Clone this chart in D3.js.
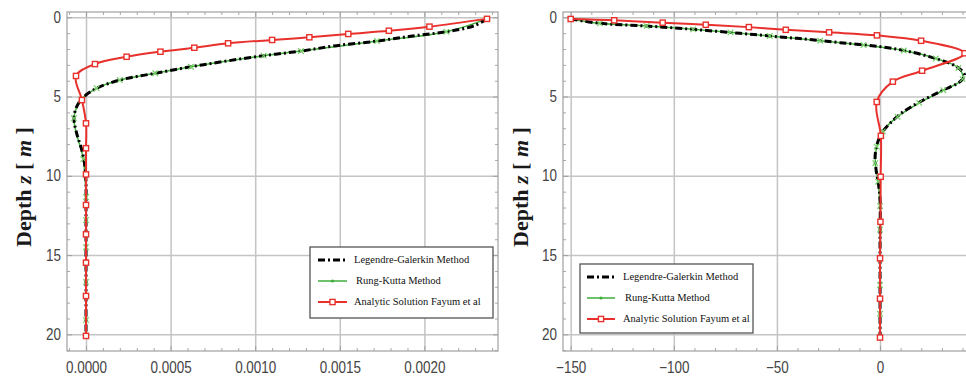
<!DOCTYPE html>
<html>
<head>
<meta charset="utf-8">
<script src="https://cdn.jsdelivr.net/npm/d3@7"></script>
<style>
  html, body { margin: 0; padding: 0; background: #fff; }
  svg { display: block; }
</style>
</head>
<body>
<div id="chart"></div>
<script>
// ---- data ----
// left panel
const leftLGDepth = [0.1, 0.55, 0.91, 1.18, 1.5, 1.79, 2.13, 2.42, 2.76, 3.12, 3.53, 3.96, 4.48, 5.05, 5.64, 6.37, 7.32, 8.37, 9.43, 10.47, 12, 14, 16, 18, 20.1];
const leftLG = [0.00237, 0.00229, 0.00213, 0.00193, 0.00172, 0.00148, 0.00127, 0.00105, 0.00083, 0.00062, 0.00041, 0.00020, 0.000063, -0.000016, -0.000055, -0.000071, -0.000055, -0.000025, -0.000006, 0, 0, 0, 0, 0, 0];

const leftRKDepth = [0.1, 0.91, 1.5, 2.13, 2.42, 3.12, 3.53, 3.96, 4.48, 5.2, 6.37, 8.94, 11.34, 12.79, 14.5, 16.7, 19.1];
const leftRK = [0.00237, 0.00213, 0.00172, 0.00127, 0.00105, 0.00062, 0.00041, 0.00020, 0.000063, -0.000028, -0.000071, -0.000016, 0, 0, 0, 0, 0];

const leftASDepth = [0.1, 0.59, 0.85, 1.05, 1.26, 1.43, 1.64, 1.92, 2.17, 2.49, 2.95, 3.7, 5.22, 6.69, 8.26, 9.91, 11.84, 13.69, 15.48, 17.58, 20.1];
const leftAS = [0.00237, 0.00203, 0.00179, 0.00155, 0.00132, 0.00110, 0.00084, 0.00064, 0.00044, 0.00024, 0.000053, -0.000059, -0.000024, 0, 0, 0, 0, 0, 0, 0, 0];

// right panel
const rightLGDepth = [0.107, 0.38, 0.55, 0.76, 1.01, 1.22, 1.39, 1.6, 1.85, 2.17, 2.69, 3.12, 3.64, 4.06, 4.59, 5.22, 5.96, 6.69, 7.22, 7.95, 8.79, 9.63, 10.47, 11.53, 14, 17, 20.2];
const rightLG = [-150, -135.8, -113.2, -90.6, -67.9, -50.1, -34.8, -19.4, 0, 14.5, 29.1, 37.2, 41.0, 38.8, 30.7, 21.0, 11.3, 4.8, 1.3, -1.3, -2.4, -1.9, -0.8, 0, 0, 0, 0];

const rightRKDepth = [0.107, 0.38, 0.55, 0.76, 0.95, 1.18, 1.48, 1.75, 2.1, 2.6, 3.2, 3.9, 4.6, 5.4, 6.27, 7.2, 8.16, 9.2, 10.37, 11.9, 13.4, 15.2, 16.9, 18.7, 20.2];
const rightRK = [-150, -135.8, -113.2, -90.6, -72.5, -53.5, -29, -8, 11.5, 27, 38, 40, 30.7, 19, 8.5, 1.3, -1.6, -2.3, -0.9, 0, 0, 0, 0, 0, 0];

const rightASDepth = [0.107, 0.19, 0.34, 0.47, 0.62, 0.79, 0.95, 1.14, 1.48, 2.27, 3.37, 4.06, 5.34, 7.48, 10.06, 12.9, 15.2, 17.75, 20.2];
const rightAS = [-150, -128.9, -105.4, -84.5, -63.6, -45.7, -24.7, -1.5, 19.9, 41.0, 20.4, 6.2, -1.6, 0.4, 0.3, 0.2, 0, 0, 0];

const depthTicks = [0, 5, 10, 15, 20];
const leftTicks = [0, 0.0005, 0.0010, 0.0015, 0.0020];
const rightTicks = [-150, -100, -50, 0];
const legendLabels = ["Legendre-Galerkin Method", "Rung-Kutta Method", "Analytic Solution Fayum et al"];

// ---- drawing ----
const width = 966, height = 377;
const svg = d3.select('#chart').append('svg')
    .attr('width', width)
    .attr('height', height);

const y = d3.scaleLinear().domain([-0.334, 21.05]).range([12, 351]);
const tickFont = '"Liberation Sans", Arial, sans-serif';
const serif = '"Liberation Serif", "Times New Roman", serif';

function minorValues(domain, step, majors) {
    const out = [];
    const n0 = Math.ceil(domain[0] / step - 1e-9), n1 = Math.floor(domain[1] / step + 1e-9);
    for (let i = n0; i <= n1; i++) {
        const v = i * step;
        if (!majors.some(m => Math.abs(m - v) < step / 10)) out.push(v);
    }
    return out;
}

const panels = [
    {
        x0: 67, x1: 498, domain: [-0.0001123, 0.002435], ticks: leftTicks, step: 0.0001,
        format: d3.format('.4f'), titleX: 31,
        lg: [leftLG, leftLGDepth], rk: [leftRK, leftRKDepth], as: [leftAS, leftASDepth],
        legend: { x: 310, y: 247, w: 183, h: 71, lx0: 318, lx1: 347, tx: 354 }
    },
    {
        x0: 563, x1: 985, domain: [-153.73, 50.9], ticks: rightTicks, step: 10,
        format: d3.format('d'), titleX: 528,
        lg: [rightLG, rightLGDepth], rk: [rightRK, rightRKDepth], as: [rightAS, rightASDepth],
        legend: { x: 580, y: 264, w: 173, h: 69, lx0: 587, lx1: 615, tx: 623 }
    }
];

const yMinor = minorValues(y.domain(), 1, depthTicks);

panels.forEach((p, pi) => {
    const x = d3.scaleLinear().domain(p.domain).range([p.x0, p.x1]);
    const g = svg.append('g');
    const top = y.range()[0], bottom = y.range()[1];
    const xMinor = minorValues(p.domain, p.step, p.ticks);

    // grid
    g.append('g').attr('transform', `translate(0,${bottom})`)
        .call(d3.axisBottom(x).tickValues(p.ticks).tickSize(-(bottom - top)).tickFormat(''))
        .call(a => a.select('.domain').remove())
        .selectAll('line').attr('stroke', '#c4c4c4').attr('stroke-width', 1.5);
    g.append('g').attr('transform', `translate(${p.x0},0)`)
        .call(d3.axisLeft(y).tickValues(depthTicks).tickSize(-(p.x1 - p.x0)).tickFormat(''))
        .call(a => a.select('.domain').remove())
        .selectAll('line').attr('stroke', '#c4c4c4').attr('stroke-width', 1.5);

    // frame ticks, inward on four sides
    const sides = [
        [() => d3.axisBottom(x), `translate(0,${bottom})`, p.ticks, xMinor, true],
        [() => d3.axisTop(x), `translate(0,${top})`, p.ticks, xMinor, false],
        [() => d3.axisLeft(y), `translate(${p.x0},0)`, depthTicks, yMinor, true],
        [() => d3.axisRight(y), `translate(${p.x1},0)`, depthTicks, yMinor, false]
    ];
    sides.forEach(([axis, tr, major, minor, labels], si) => {
        const isX = si < 2;
        g.append('g').attr('transform', tr)
            .call(axis().tickValues(minor).tickSize(-3).tickFormat(''))
            .call(a => a.select('.domain').remove())
            .selectAll('line').attr('stroke', '#a8a8a8');
        const ag = g.append('g').attr('transform', tr)
            .call(axis().tickValues(major).tickSize(-5).tickPadding(isX ? 11 : 6)
                .tickFormat(labels ? (isX ? p.format : d3.format('d')) : ''));
        ag.select('.domain').remove();
        ag.selectAll('line').attr('stroke', '#a0a0a0');
        ag.selectAll('text')
            .attr('font-family', tickFont)
            .attr('font-size', 16)
            .attr('fill', '#444');
    });

    // frame
    g.append('rect')
        .attr('x', p.x0).attr('y', top)
        .attr('width', p.x1 - p.x0).attr('height', bottom - top)
        .attr('fill', 'none').attr('stroke', '#a0a0a0').attr('stroke-width', 1.2);

    const clipId = 'clip' + pi;
    svg.append('clipPath').attr('id', clipId).append('rect')
        .attr('x', p.x0).attr('y', top - 6).attr('width', p.x1 - p.x0 + 6).attr('height', bottom - top + 6);

    const plot = g.append('g').attr('clip-path', `url(#${clipId})`);
    const line = d3.line().x(d => x(d[0])).y(d => y(d[1])).curve(d3.curveCatmullRom.alpha(0.5));
    const pts = s => d3.zip(s[0], s[1]);

    // Runge-Kutta (thin green) below the dash-dot line
    plot.append('path').attr('d', line(pts(p.rk)))
        .attr('fill', 'none').attr('stroke', '#3fae3a').attr('stroke-width', 1.5);
    // Legendre-Galerkin
    plot.append('path').attr('d', line(pts(p.lg)))
        .attr('fill', 'none').attr('stroke', '#000').attr('stroke-width', 3)
        .attr('stroke-dasharray', '7,3,2,3');
    // green markers
    const times = d3.symbol().type(d3.symbolTimes).size(22);
    plot.selectAll('.rk').data(pts(p.rk)).join('path')
        .attr('transform', d => `translate(${x(d[0])},${y(d[1])})`)
        .attr('d', times).attr('fill', 'none').attr('stroke', '#78cf6a').attr('stroke-width', 1.2);
    // analytic
    plot.append('path').attr('d', line(pts(p.as)))
        .attr('fill', 'none').attr('stroke', '#e8302c').attr('stroke-width', 2);
    plot.selectAll('.as').data(pts(p.as)).join('rect')
        .attr('x', d => x(d[0]) - 2.6).attr('y', d => y(d[1]) - 2.6)
        .attr('width', 5.2).attr('height', 5.2)
        .attr('fill', '#fff').attr('stroke', '#e8302c').attr('stroke-width', 1.4);

    // axis title
    const t = svg.append('text')
        .attr('transform', `translate(${p.titleX},187) rotate(-90)`)
        .attr('text-anchor', 'middle')
        .attr('font-family', serif).attr('font-size', 22).attr('font-weight', 'bold').attr('fill', '#1a1a1a');
    t.append('tspan').text('Depth ');
    t.append('tspan').attr('font-style', 'italic').text('z');
    t.append('tspan').text(' [ ');
    t.append('tspan').attr('font-style', 'italic').text('m');
    t.append('tspan').text(' ]');

    // legend
    const L = p.legend;
    const lg = svg.append('g');
    lg.append('rect').attr('x', L.x).attr('y', L.y).attr('width', L.w).attr('height', L.h)
        .attr('fill', '#fff').attr('stroke', '#555').attr('stroke-width', 1.3);
    const rows = [13, 34, 55];
    const styles = [
        { stroke: '#000', w: 3, dash: '7,3,2,3' },
        { stroke: '#3fae3a', w: 1.5, dash: null },
        { stroke: '#e8302c', w: 2, dash: null }
    ];
    legendLabels.forEach((lab, i) => {
        const ry = L.y + rows[i];
        lg.append('line').attr('x1', L.lx0).attr('x2', L.lx1).attr('y1', ry).attr('y2', ry)
            .attr('stroke', styles[i].stroke).attr('stroke-width', styles[i].w)
            .attr('stroke-dasharray', styles[i].dash);
        const cx = (L.lx0 + L.lx1) / 2;
        if (i === 1) {
            lg.append('circle').attr('cx', cx).attr('cy', ry).attr('r', 1.6).attr('fill', '#3fae3a');
        }
        if (i === 2) {
            lg.append('rect').attr('x', cx - 2.6).attr('y', ry - 2.6).attr('width', 5.2).attr('height', 5.2)
                .attr('fill', '#fff').attr('stroke', '#e8302c').attr('stroke-width', 1.4);
        }
        lg.append('text').attr('x', L.tx + (i === 1 ? 2 : 0)).attr('y', ry).attr('dy', '0.32em')
            .attr('font-family', serif).attr('font-size', 10.5).attr('fill', '#111')
            .text(lab);
    });
});

// squeeze the tick labels: the picture uses a narrow face
svg.selectAll('.tick text').each(function () {
    const n = this.getComputedTextLength();
    if (n > 0) d3.select(this).attr('textLength', n * 0.84).attr('lengthAdjust', 'spacingAndGlyphs');
});
</script>
</body>
</html>
